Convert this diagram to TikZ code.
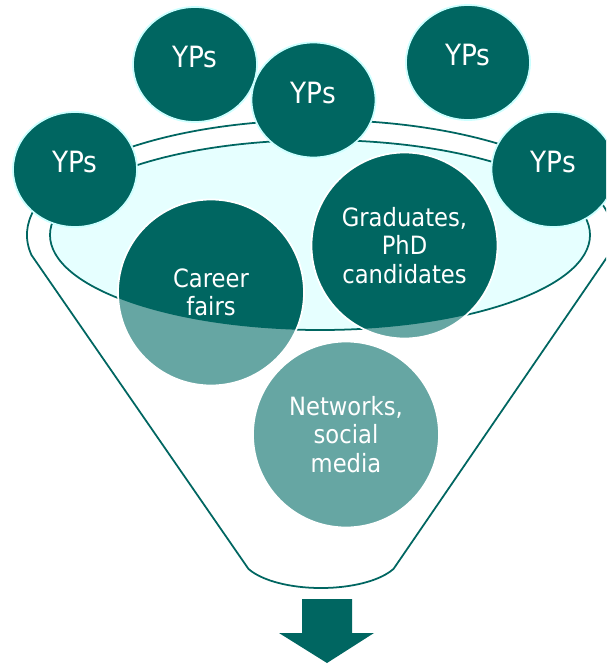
\documentclass[tikz,border=0pt]{standalone}
\usepackage{fontspec}
\setmainfont{DejaVu Sans}[FakeStretch=0.9]
\usetikzlibrary{shapes.geometric}
\definecolor{tealdark}{RGB}{0,102,97}
\definecolor{teallight}{RGB}{102,166,163}
\definecolor{rimcyan}{RGB}{230,255,255}
\definecolor{ypedge}{RGB}{204,255,255}
\begin{document}
\begin{tikzpicture}[x=0.03cm,y=-0.03cm,
  funnelline/.style={draw=tealdark,line width=1.5pt},
  ypword/.style={text=white,font={\fontsize{25pt}{28pt}\selectfont}},
  ypbubble/.style={ellipse,fill=tealdark,draw=ypedge,line width=1.5pt,
    minimum width=3.72cm,minimum height=3.45cm,inner sep=0pt,
    label={[ypword,yshift=0.21cm]center:YPs}},
  channel/.style={circle,fill=teallight,draw=white,line width=1.5pt,
    minimum size=5.58cm,inner sep=0pt,align=center,text=white,
    font={\fontsize{21.5pt}{24.3pt}\selectfont},
    path picture={\fill[tealdark] (rim) ellipse[x radius=8.1cm,y radius=2.85cm];}}]
\fill[white] (0,0) rectangle (606,664);
\useasboundingbox (0,0) rectangle (606,664);
\clip (0,0) rectangle (606,664);
\coordinate (rim) at (320,235);
\coordinate (neck) at (321,555);
% funnel body and its mouth
\draw[funnelline] (rim) ++(190:8.79cm and 3.45cm)
  arc[start angle=190,end angle=-10,x radius=8.79cm,y radius=3.45cm]
  -- ([shift={(-25:2.4cm and 0.99cm)}]neck)
  arc[start angle=-25,end angle=-155,x radius=2.4cm,y radius=0.99cm] -- cycle;
\draw[funnelline,fill=rimcyan] (rim) ellipse[x radius=8.1cm,y radius=2.85cm];
% channels
\node[channel] (fairs) at (211,292.5) {Career\\fairs};
\node[channel] (grads) at (404.5,245.5) {Graduates,\\PhD\\candidates};
\node[channel] (nets) at (346,434.5) {Networks,\\social\\media};
% YPs going in
\node[ypbubble] (ypl) at (75,169.5) {};
\node[ypbubble] (yptl) at (195,64.5) {};
\node[ypbubble] (ypc) at (313.5,100) {};
\node[ypbubble] (yptr) at (468,62.5) {};
\node[ypbubble] (ypr) at (553.5,169.5) {};
% outlet arrow
\fill[tealdark] (302,599) -- (352,599) -- (352,633) -- (374,633) -- (327,663)
  -- (279,633) -- (302,633) -- cycle;
\end{tikzpicture}
\end{document}
